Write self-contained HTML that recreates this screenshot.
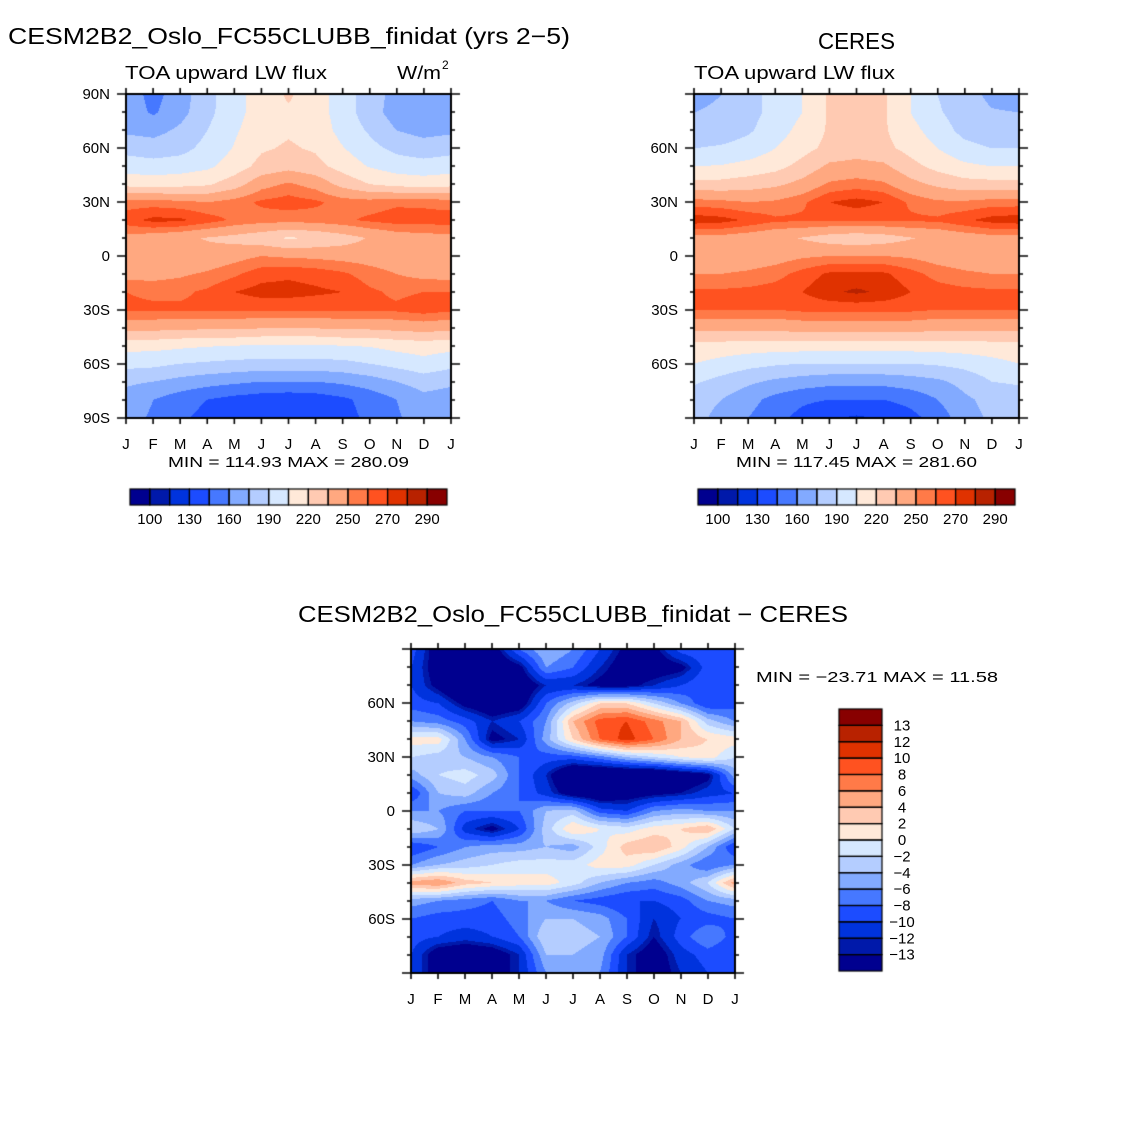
<!DOCTYPE html>
<html><head><meta charset="utf-8"><style>
html,body{margin:0;padding:0;background:#fff;}
#wrap{position:relative;width:1146px;height:1146px;overflow:hidden;}
canvas,svg{position:absolute;left:0;top:0;}
text{font-family:"Liberation Sans",sans-serif;fill:#000;}
</style></head><body>
<div id="wrap">
<canvas id="cv" width="1146" height="1146"></canvas>
<svg id="sv" width="1146" height="1146"></svg>
</div>
<script>
// ---- data ----
const months = ["J","F","M","A","M","J","J","A","S","O","N","D","J"];
const latLabelsTop = ["90N","60N","30N","0","30S","60S","90S"];
const latLabelsCeres = ["","60N","30N","0","30S","60S",""];
const absLevels = [100,115,130,145,160,175,190,205,220,235,250,260,270,280,290];
const absBarLabels = ["100","130","160","190","220","250","270","290"];
const diffLevels = [-13,-12,-10,-8,-6,-4,-2,0,2,4,6,8,10,12,13];
const diffBarLabels = ["-13","-12","-10","-8","-6","-4","-2","0","2","4","6","8","10","12","13"];
const palette = ["#00008f","#0019aa","#0033dd","#1c4cff","#4678ff","#82aaff","#b4cdff","#d6e8ff","#ffe9d9","#ffcab2","#ffa880","#ff7a48","#ff5220","#e03200","#b82200","#880000"];
const modelLW = [
[168,155,168,185,200,212,222,212,198,182,170,165,168],
[168,158,170,186,200,212,218,212,198,182,168,163,168],
[172,170,178,190,203,214,218,214,200,188,175,170,172],
[185,182,185,195,206,218,222,218,206,195,186,182,185],
[198,196,198,202,212,225,230,225,214,204,198,196,198],
[215,214,215,218,228,245,252,245,230,220,215,213,215],
[255,255,253,250,255,262,265,262,256,255,258,258,255],
[266,273,272,265,258,255,254,255,258,262,265,264,266],
[245,242,238,234,230,225,218,222,228,236,242,245,245],
[242,240,236,240,245,250,248,247,245,244,242,242,242],
[245,245,248,252,258,266,268,266,262,255,250,246,245],
[260,258,258,262,270,274,274,272,270,262,258,260,260],
[262,262,262,262,262,262,262,262,262,262,262,265,262],
[240,240,238,238,238,236,236,236,238,238,240,242,240],
[210,210,208,206,205,203,203,203,205,206,210,212,210],
[195,194,190,188,186,185,185,185,186,190,195,200,195],
[178,175,170,166,163,160,160,160,163,168,175,182,178],
[168,160,152,145,140,137,135,137,142,150,160,170,168],
[165,158,148,140,135,132,130,132,140,148,158,168,165]];
const ceresLW = [
[170,175,185,195,205,222,228,222,205,190,180,172,170],
[175,178,185,195,205,222,228,222,205,192,182,176,175],
[180,182,188,198,210,222,226,222,210,198,185,180,180],
[190,192,196,205,215,224,228,224,215,205,195,190,190],
[205,206,210,215,225,238,240,238,225,215,208,205,205],
[225,225,228,232,240,252,255,252,240,232,226,225,225],
[255,253,250,252,258,270,274,270,258,252,252,255,255],
[276,274,268,262,262,262,262,262,262,262,268,274,276],
[245,245,242,238,234,228,225,228,234,238,242,245,245],
[242,242,242,244,248,250,250,250,248,244,242,242,242],
[250,250,252,256,264,272,272,272,264,256,252,250,250],
[262,262,263,265,270,278,282,278,270,265,263,262,262],
[260,260,260,260,262,262,262,262,262,260,260,260,260],
[240,240,240,240,242,243,243,243,242,240,240,240,240],
[215,214,213,212,212,212,212,212,212,212,213,214,215],
[205,200,195,192,190,190,190,190,190,192,195,200,205],
[192,185,178,172,168,165,165,165,168,172,180,190,192],
[182,175,165,155,148,145,145,145,150,160,172,180,182],
[180,170,160,150,140,132,128,132,140,152,168,178,180]];
const diffLW = [
[-9,-15,-15,-15,-8,-4,-6,-10,-14,-14,-9,-8,-9],
[-10,-15,-16,-16,-14,-6,-8,-12,-15,-15,-14,-9,-10],
[-10,-14,-18,-18,-16,-12,-12,-14,-14,-12,-10,-8,-10],
[-9,-10,-14,-16,-15,-8,-3,2,2,-2,-6,-10,-9],
[-6,-7,-9,-12,-10,-6,4,9,10,7,4,-3,-6],
[1,1,-6,-14,-12,-5,2,8,11,8,4,2,1],
[-2,-3,-4,-6,-8,-9,-9,-7,-4,-2,0,1,-2],
[-5,-2,-1,-3,-8,-12,-18,-18,-18,-18,-16,-14,-5],
[-10,-4,-3,-6,-8,-11,-15,-16,-15,-14,-13,-11,-10],
[-6,-6,-8,-8,-8,-4,-3,-9,-10,-6,-5,-6,-6],
[-2,-4,-11,-14,-10,-3,2,0,-1,1,2,4,-2],
[-10,-8,-6,-5,-5,-4,-5,-1,3,4,1,-4,-10],
[-6,-4,-3,-2,-1,-1,-1,1,1,-2,-5,-8,-6],
[5,6,3,2,1,1,-1,-4,-6,-7,-5,-2,5],
[-5,-6,-7,-8,-6,-6,-8,-9,-10,-10,-9,-6,-5],
[-8,-9,-9,-9,-7,-4,-4,-5,-8,-12,-10,-9,-8],
[-9,-10,-11,-10,-8,-2,-3,-4,-8,-13,-9,-6,-9],
[-10,-15,-16,-15,-12,-4,-4,-5,-12,-15,-11,-9,-10],
[-10,-15,-16,-15,-12,-6,-5,-6,-12,-15,-12,-10,-10]];

// ---- drawing ----
const cv=document.getElementById('cv'), ctx=cv.getContext('2d');
const sv=document.getElementById('sv'), NS="http://www.w3.org/2000/svg";
function hex(c){return [parseInt(c.substr(1,2),16),parseInt(c.substr(3,2),16),parseInt(c.substr(5,2),16)];}
const pal=palette.map(hex);
function colorIndex(v,levels){let i=0;while(i<levels.length&&v>=levels[i])i++;return i;}
function txt(s,x,y,size,anchor,len,name){
  const t=document.createElementNS(NS,'text');
  t.setAttribute('x',x);t.setAttribute('y',y);t.setAttribute('font-size',size);
  if(anchor)t.setAttribute('text-anchor',anchor);
  if(len){t.setAttribute('textLength',len);t.setAttribute('lengthAdjust','spacingAndGlyphs');}
  t.textContent=s;
  
  
  sv.appendChild(t);return t;
}
function fillPanel(grid,levels,x0,y0,w,h){
  const img=ctx.createImageData(w,h);const R=grid.length-1,C=grid[0].length-1;
  for(let py=0;py<h;py++){const fy=py/(h-1)*R;const r=Math.min(Math.floor(fy),R-1);const ty=fy-r;
    for(let px=0;px<w;px++){const fx=px/(w-1)*C;const c=Math.min(Math.floor(fx),C-1);const tx=fx-c;
      const v=(grid[r][c]*(1-tx)+grid[r][c+1]*tx)*(1-ty)+(grid[r+1][c]*(1-tx)+grid[r+1][c+1]*tx)*ty;
      const col=pal[colorIndex(v,levels)];const k=(py*w+px)*4;
      img.data[k]=col[0];img.data[k+1]=col[1];img.data[k+2]=col[2];img.data[k+3]=255;}}
  ctx.putImageData(img,x0,y0);
}
function axes(x0,y0,w,h,latLabels,monthY){
  ctx.strokeStyle='#000';ctx.lineWidth=2;ctx.strokeRect(x0,y0,w,h);
  ctx.lineWidth=1.6;ctx.beginPath();
  for(let i=0;i<months.length;i++){const x=x0+i*w/(months.length-1);
    ctx.moveTo(x,y0);ctx.lineTo(x,y0-6);ctx.moveTo(x,y0+h);ctx.lineTo(x,y0+h+6);
    txt(months[i],x,monthY,15,'middle',null,'month-tick-label');}
  for(let j=0;j<=18;j++){const y=y0+j*h/18;const L=(j%3==0)?9:4;
    ctx.moveTo(x0,y);ctx.lineTo(x0-L,y);ctx.moveTo(x0+w,y);ctx.lineTo(x0+w+L,y);}
  ctx.stroke();
  for(let k=0;k<latLabels.length;k++){if(!latLabels[k])continue;
    txt(latLabels[k],x0-16,y0+k*h/6+5,15,'end',null,'latitude-tick-label');}
}
function hbar(x0,y0,w,h,labels){
  const n=palette.length,bw=w/n;
  for(let i=0;i<n;i++){ctx.fillStyle=palette[i];ctx.fillRect(x0+i*bw,y0,bw,h);}
  ctx.strokeStyle='#000';ctx.lineWidth=1.2;
  for(let i=0;i<n;i++)ctx.strokeRect(x0+i*bw,y0,bw,h);
  for(let i=0;i<labels.length;i++)txt(labels[i],x0+(1+2*i)*bw,y0+h+19,15,'middle',null,'colorbar-label');
}
function vbar(x0,y0,w,h,labels){
  const n=palette.length,bh=h/n;
  for(let i=0;i<n;i++){ctx.fillStyle=palette[n-1-i];ctx.fillRect(x0,y0+i*bh,w,bh);}
  ctx.strokeStyle='#000';ctx.lineWidth=1.2;
  for(let i=0;i<n;i++)ctx.strokeRect(x0,y0+i*bh,w,bh);
  for(let i=0;i<labels.length;i++){const s=labels[labels.length-1-i].replace('-','\u2212');
    txt(s,902,y0+(i+1)*bh+5,15,'middle',null,'colorbar-label');}
}
fillPanel(modelLW,absLevels,126,94,325,324);
axes(126,94,325,324,latLabelsTop,449);
fillPanel(ceresLW,absLevels,694,94,325,324);
axes(694,94,325,324,latLabelsCeres,449);
fillPanel(diffLW,diffLevels,411,649,324,324);
axes(411,649,324,324,["","60N","30N","0","30S","60S",""],1004);
hbar(130,489,317,16,absBarLabels);
hbar(698,489,317,16,absBarLabels);
vbar(839,709,43,262,diffBarLabels);

txt("CESM2B2_Oslo_FC55CLUBB_finidat (yrs 2\u22125)",8,44,23,null,562,'model-title');
txt("CERES",818,49,23,null,77,'ceres-title');
txt("TOA upward LW flux",125,79,18,null,202,'variable-title');
txt("W/m",397,79,18,null,44,'units-label');
txt("2",442,69,12,null,null,'units-exponent');
txt("TOA upward LW flux",694,79,18,null,201,'variable-title');
txt("MIN = 114.93 MAX = 280.09",168,467,15,null,241,'min-max-label');
txt("MIN = 117.45 MAX = 281.60",736,467,15,null,241,'min-max-label');
txt("CESM2B2_Oslo_FC55CLUBB_finidat \u2212 CERES",298,622,23,null,550,'difference-title');
txt("MIN = \u221223.71 MAX =   11.58",756,682,15,null,242,'min-max-label');
</script>
</body></html>
